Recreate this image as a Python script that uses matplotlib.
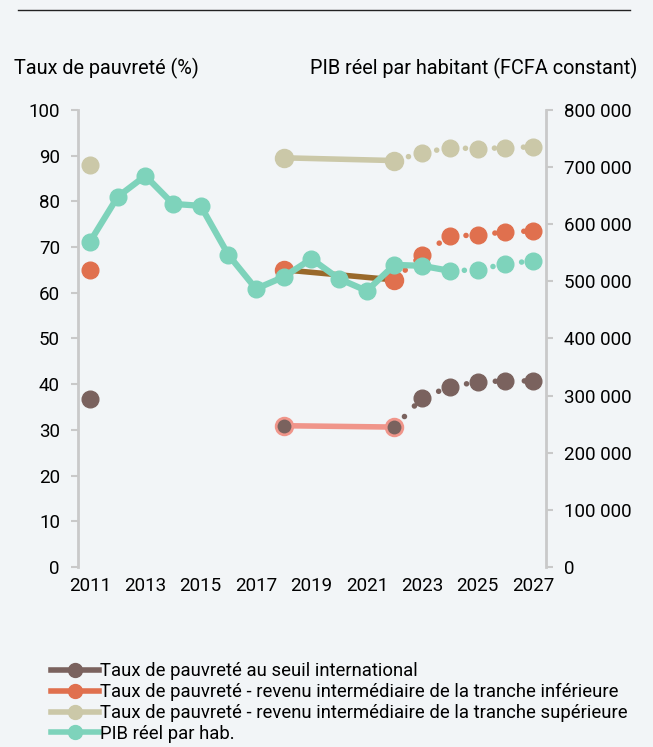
import matplotlib.pyplot as plt
from matplotlib.lines import Line2D
from matplotlib.ticker import FuncFormatter

# données
annees = list(range(2011, 2028))
annees_pauv = [2011, 2018, 2022, 2023, 2024, 2025, 2026, 2027]
seuil_intl = [36.8, 30.9, 30.6, 37.0, 39.4, 40.5, 40.7, 40.7]
tranche_inf = [65.0, 65.0, 62.8, 68.3, 72.4, 72.6, 73.3, 73.5]
tranche_sup = [88.0, 89.5, 88.9, 90.6, 91.7, 91.5, 91.7, 91.9]
pib = [569000, 647700, 684500, 635400, 632000, 546200, 486700, 507700, 539200,
       504200, 483200, 528700, 527000, 518200, 520000, 530400, 535700]

fond = '#f2f5f7'
c_teal = '#7ed3bb'
c_orange = '#e0704e'
c_tan = '#cbc8a8'
c_brun = '#7a625e'
c_brun_ligne = '#99692b'
c_saumon = '#f0958a'

plt.rcParams['font.family'] = ['Roboto', 'DejaVu Sans']

fig = plt.figure(figsize=(6.53, 7.47), dpi=100, facecolor=fond)
ax = fig.add_axes([0.1195, 0.241, 0.7165, 0.612], facecolor=fond)
ax2 = ax.twinx()

pointille = dict(linestyle=(0, (0.01, 2.6)), dash_capstyle='round', lw=4)
ms = 12


def serie(axe, x, y, coul, coul_solide, coul_bord):
    # point 2011 isolé
    axe.plot(x[0], y[0], 'o', color=coul, ms=ms, zorder=3)
    # segment historique 2018-2022
    axe.plot(x[1:3], y[1:3], '-', color=coul_solide, lw=4, zorder=2)
    axe.plot(x[1:3], y[1:3], 'o', color=coul, mec=coul_bord, mew=2, ms=ms, zorder=3)
    # projections
    axe.plot(x[2:], y[2:], color=coul, zorder=2, **pointille)
    axe.plot(x[3:], y[3:], 'o', color=coul, ms=ms, zorder=3)


serie(ax, annees_pauv, tranche_sup, c_tan, c_tan, c_tan)
serie(ax, annees_pauv, tranche_inf, c_orange, c_brun_ligne, c_orange)
serie(ax, annees_pauv, seuil_intl, c_brun, c_saumon, c_saumon)

# PIB par habitant : plein jusqu'en 2024, pointillé ensuite
ax2.plot(annees[:14], pib[:14], '-', color=c_teal, lw=4.5, zorder=2)
ax2.plot(annees[13:], pib[13:], color=c_teal, zorder=2, **pointille)
ax2.plot(annees, pib, 'o', color=c_teal, ms=ms, zorder=3)

ax.set_xlim(2010.57, 2027.47)
ax.set_ylim(0, 100)
ax2.set_ylim(0, 800000)
ax.set_yticks(range(0, 101, 10))
ax2.set_yticks(range(0, 800001, 100000))
ax2.yaxis.set_major_formatter(FuncFormatter(lambda v, p: f'{int(v):,}'.replace(',', ' ')))
ax.set_xticks(range(2011, 2028, 2))

for a in (ax, ax2):
    for s in ('top', 'bottom', 'left', 'right'):
        a.spines[s].set_visible(False)
ax.spines['left'].set_visible(True)
ax.spines['left'].set_color('#c9c9c9')
ax.spines['left'].set_linewidth(2)
ax2.spines['right'].set_visible(True)
ax2.spines['right'].set_color('#c9c9c9')
ax2.spines['right'].set_linewidth(2)

ax.tick_params(axis='y', length=5, width=1.5, color='#c9c9c9', labelsize=13.5, pad=8)
ax2.tick_params(axis='y', length=5, width=1.5, color='#c9c9c9', labelsize=13.5, pad=8)
ax.tick_params(axis='x', length=0, labelsize=13.5, pad=7)

fig.text(14 / 653, 1 - 68 / 747, 'Taux de pauvreté (%)', fontsize=14.3, va='center', ha='left')
fig.text(637 / 653, 1 - 68 / 747, 'PIB réel par habitant (FCFA constant)', fontsize=14.3,
         va='center', ha='right')

# trait en haut
fig.add_artist(Line2D([18 / 653, 630 / 653], [1 - 10 / 747, 1 - 10 / 747], color='#222222', lw=1))

poignees = [
    Line2D([], [], color=c_brun, lw=4, marker='o', ms=10),
    Line2D([], [], color=c_orange, lw=4, marker='o', ms=10),
    Line2D([], [], color=c_tan, lw=4, marker='o', ms=10),
    Line2D([], [], color=c_teal, lw=4, marker='o', ms=10),
]
libelles = ['Taux de pauvreté au seuil international',
            'Taux de pauvreté - revenu intermédiaire de la tranche inférieure',
            'Taux de pauvreté - revenu intermédiaire de la tranche supérieure',
            'PIB réel par hab.']
fig.legend(poignees, libelles, loc='upper left', bbox_to_anchor=(44 / 653, 1 - 655 / 747),
           frameon=False, fontsize=13.3, handlelength=2.6, handletextpad=0.05,
           labelspacing=0.15, borderaxespad=0)

fig.savefig('out.png', dpi=100, facecolor=fond)
